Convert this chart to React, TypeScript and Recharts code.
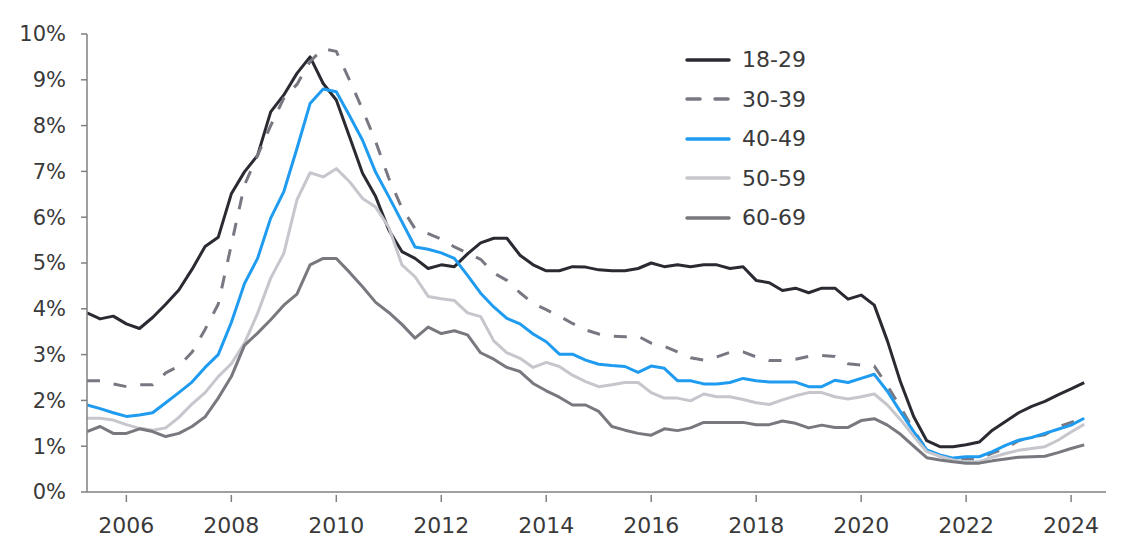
import { CartesianGrid, Line, LineChart, XAxis, YAxis } from 'recharts'

// quarterly series, 2005 Q2 .. 2024 Q2
const quarters = Array.from({ length: 77 }, (_, i) => 2005.25 + i / 4)

const age1829 = [
  3.91, 3.78, 3.84, 3.67, 3.57, 3.81, 4.1, 4.41, 4.86, 5.36, 5.56, 6.51, 6.99, 7.35,
  8.3, 8.67, 9.14, 9.5, 8.92, 8.56, 7.76, 6.96, 6.45, 5.72, 5.25, 5.1, 4.88,
  4.96, 4.92, 5.2, 5.44, 5.54, 5.54, 5.17, 4.96, 4.83, 4.83, 4.92, 4.91,
  4.85, 4.83, 4.83, 4.88, 5.0, 4.92, 4.96, 4.92, 4.96, 4.96, 4.88, 4.92, 4.62, 4.57,
  4.4, 4.45, 4.35, 4.45, 4.45, 4.21, 4.3, 4.08, 3.3, 2.4, 1.65, 1.12,
  0.99, 0.99, 1.03, 1.09, 1.35, 1.54, 1.73, 1.87, 1.98, 2.12, 2.25, 2.39,
]
const age3039 = [
  2.43, 2.43, 2.36, 2.3, 2.34, 2.34, 2.6, 2.75, 3.05, 3.55, 4.1, 5.4, 6.7, 7.35,
  8.0, 8.6, 8.9, 9.4, 9.68, 9.62, 9.0, 8.35, 7.65, 6.85, 6.2, 5.75, 5.64,
  5.52, 5.35, 5.22, 5.08, 4.78, 4.62, 4.35, 4.12, 3.98, 3.84, 3.68, 3.54,
  3.45, 3.4, 3.39, 3.4, 3.25, 3.18, 3.06, 2.93, 2.88, 2.95, 3.05, 3.06, 2.95, 2.87,
  2.87, 2.9, 2.96, 2.98, 2.96, 2.8, 2.77, 2.75, 2.32, 1.85, 1.35, 0.92,
  0.78, 0.72, 0.72, 0.72, 0.85, 0.95, 1.12, 1.2, 1.25, 1.42, 1.52, 1.63,
]
const age4049 = [
  1.9, 1.82, 1.73, 1.65, 1.68, 1.73, 1.95, 2.17, 2.4, 2.72, 3.0, 3.7, 4.55, 5.1,
  5.98, 6.56, 7.5, 8.48, 8.8, 8.74, 8.22, 7.68, 6.98, 6.45, 5.9, 5.35, 5.3,
  5.22, 5.1, 4.73, 4.34, 4.04, 3.79, 3.67, 3.45, 3.28, 3.01, 3.01, 2.88,
  2.79, 2.76, 2.74, 2.61, 2.75, 2.7, 2.43, 2.43, 2.36, 2.36, 2.39, 2.48, 2.43, 2.4,
  2.4, 2.4, 2.3, 2.3, 2.44, 2.39, 2.48, 2.57, 2.2, 1.75, 1.32, 0.92,
  0.81, 0.74, 0.77, 0.77, 0.88, 1.02, 1.13, 1.19, 1.28, 1.37, 1.46, 1.61,
]
const age5059 = [
  1.61, 1.61, 1.57, 1.47, 1.39, 1.35, 1.4, 1.63, 1.92, 2.17, 2.52, 2.8, 3.25, 3.9,
  4.67, 5.21, 6.38, 6.97, 6.88, 7.06, 6.78, 6.41, 6.22, 5.78, 4.96, 4.7, 4.27,
  4.22, 4.18, 3.91, 3.83, 3.3, 3.04, 2.92, 2.72, 2.83, 2.74, 2.55, 2.41,
  2.3, 2.34, 2.39, 2.39, 2.17, 2.05, 2.05, 1.99, 2.14, 2.08, 2.08, 2.02, 1.95, 1.91,
  2.01, 2.1, 2.17, 2.17, 2.08, 2.03, 2.08, 2.14, 1.9, 1.58, 1.22, 0.88,
  0.78, 0.7, 0.66, 0.66, 0.76, 0.84, 0.91, 0.95, 0.99, 1.13, 1.31, 1.48,
]
const age6069 = [
  1.32, 1.43, 1.28, 1.28, 1.38, 1.32, 1.21, 1.28, 1.43, 1.64, 2.05, 2.52, 3.2, 3.47,
  3.76, 4.08, 4.32, 4.96, 5.1, 5.1, 4.8, 4.48, 4.14, 3.92, 3.66, 3.36, 3.6,
  3.46, 3.52, 3.43, 3.04, 2.9, 2.72, 2.63, 2.37, 2.21, 2.07, 1.9, 1.9,
  1.76, 1.43, 1.35, 1.28, 1.24, 1.38, 1.34, 1.4, 1.52, 1.52, 1.52, 1.52, 1.47, 1.47,
  1.55, 1.5, 1.4, 1.46, 1.41, 1.41, 1.56, 1.6, 1.46, 1.26, 1.0, 0.75,
  0.7, 0.66, 0.63, 0.63, 0.68, 0.72, 0.76, 0.77, 0.78, 0.86, 0.95, 1.03,
]

const yearTicks = [2006, 2008, 2010, 2012, 2014, 2016, 2018, 2020, 2022, 2024]
const pctTicks = [0, 1, 2, 3, 4, 5, 6, 7, 8, 9, 10]

const series = [
  { key: 'a1829', name: '18-29', values: age1829, color: '#2a2a32', dash: undefined },
  { key: 'a3039', name: '30-39', values: age3039, color: '#787882', dash: '13 14' },
  { key: 'a4049', name: '40-49', values: age4049, color: '#1f9bf0', dash: undefined },
  { key: 'a5059', name: '50-59', values: age5059, color: '#c6c6cd', dash: undefined },
  { key: 'a6069', name: '60-69', values: age6069, color: '#78787f', dash: undefined },
]

const data = quarters.map((q, i) => {
  const row: Record<string, number> = { q }
  series.forEach((s) => {
    row[s.key] = s.values[i]
  })
  return row
})

const FONT = '"DejaVu Sans", Verdana, sans-serif'
const TEXT = '#3a3a3a'
const AXIS = '#808080'

if (typeof document !== 'undefined') document.body.style.margin = '0'

function YearTick({ x, y, payload }: { x: number; y: number; payload: { value: number } }) {
  return (
    <g>
      <line x1={x} x2={x} y1={y + 3} y2={y + 10} stroke={AXIS} strokeWidth={1.5} />
      <text x={x} y={y + 41} textAnchor="middle" fill={TEXT} fontSize={22} fontFamily={FONT}>
        {payload.value}
      </text>
    </g>
  )
}

function LegendBox() {
  return (
    <div style={{ position: 'absolute', left: 684, top: 40, fontFamily: FONT }}>
      {series.map((s) => (
        <div key={s.key} style={{ display: 'flex', alignItems: 'center', height: 39.5 }}>
          <svg width={48} height={10} style={{ marginRight: 10 }}>
            <line
              x1={3}
              x2={45}
              y1={5}
              y2={5}
              stroke={s.color}
              strokeWidth={3.5}
              strokeLinecap="round"
              strokeDasharray={s.dash ? '13 15' : undefined}
            />
          </svg>
          <span style={{ fontSize: 22, color: TEXT }}>{s.name}</span>
        </div>
      ))}
    </div>
  )
}

export default function App() {
  return (
    <div style={{ position: 'relative', width: 1125, height: 540, background: '#fff' }}>
      <LineChart
        width={1125}
        height={540}
        data={data}
        margin={{ top: 34, right: 19, left: 0, bottom: 0 }}
      >
        <CartesianGrid stroke="none" />
        <XAxis
          dataKey="q"
          type="number"
          domain={[2005.25, 2024.665]}
          ticks={yearTicks}
          height={48}
          tickSize={0}
          tickMargin={0}
          tickLine={false}
          axisLine={{ stroke: AXIS, strokeWidth: 1.5 }}
          tick={YearTick}
          allowDataOverflow
        />
        <YAxis
          type="number"
          domain={[0, 10]}
          ticks={pctTicks}
          width={87}
          tickSize={6}
          tickMargin={15}
          tickFormatter={(v: number) => `${v}%`}
          axisLine={{ stroke: AXIS, strokeWidth: 1.5 }}
          tickLine={{ stroke: AXIS, strokeWidth: 1.5 }}
          tick={{ fill: TEXT, fontSize: 21, fontFamily: FONT }}
        />
        {series.map((s) => (
          <Line
            key={s.key}
            dataKey={s.key}
            name={s.name}
            type="linear"
            stroke={s.color}
            strokeWidth={3}
            strokeDasharray={s.dash}
            strokeLinejoin="round"
            dot={false}
            activeDot={false}
            isAnimationActive={false}
          />
        ))}
      </LineChart>
      <LegendBox />
    </div>
  )
}
